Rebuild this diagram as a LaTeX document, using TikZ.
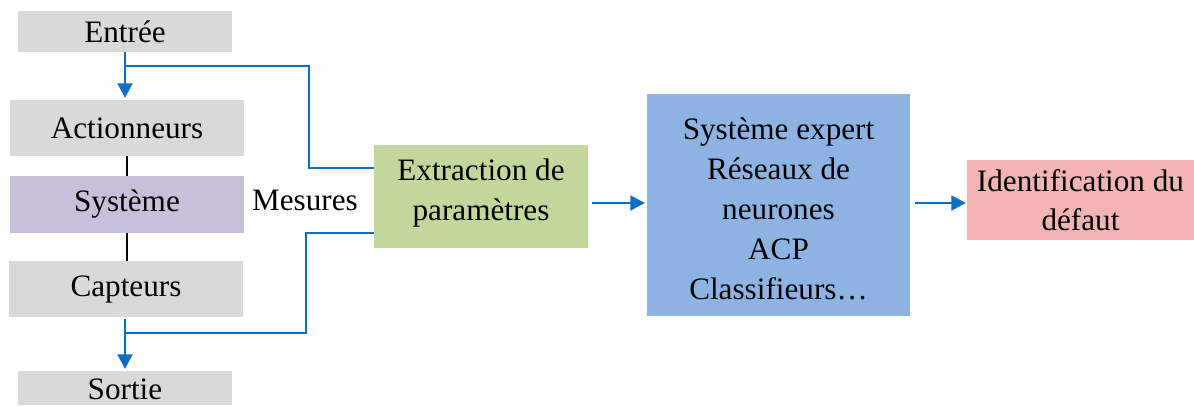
\documentclass[tikz,border=0pt]{standalone}
\usepackage{fontspec}
\setmainfont{Liberation Serif}
\usetikzlibrary{arrows.meta}
\definecolor{boxgray}{HTML}{D9D9D9}
\definecolor{boxpurple}{HTML}{C9BFDA}
\definecolor{boxgreen}{HTML}{C3D69B}
\definecolor{boxblue}{HTML}{8DB3E2}
\definecolor{boxpink}{HTML}{F4B4B4}
\definecolor{linkblue}{HTML}{0F6EC0}
\tikzset{
  px/.style={x=0.75pt,y=-0.75pt},
  blk/.style={inner sep=0pt,outer sep=0pt,align=center,font=\fontsize{23.4}{30}\selectfont},
  flow/.style={draw=linkblue,line width=2.2pt,-{Triangle[length=11pt,width=11pt]}},
  link/.style={draw=linkblue,line width=2.2pt},
  plain/.style={draw=black,line width=1.3pt}
}
\begin{document}
\begin{tikzpicture}[px]
\useasboundingbox (0,0) rectangle (1194,405);
% boxes
\fill[boxgray] (18,11) rectangle (232,52);
\node[blk] (ent) at (125,31.5) {Entrée};
\fill[boxgray] (10,100) rectangle (244,156);
\node[blk] (act) at (127,128) {Actionneurs};
\fill[boxpurple] (10,176) rectangle (244,233);
\node[blk] (sys) at (127,204.5) {Système};
\fill[boxgray] (9,261) rectangle (243,317);
\node[blk] (cap) at (126,289) {Capteurs};
\fill[boxgray] (18,371) rectangle (232,405);
\node[blk] (sor) at (125,389) {Sortie};
\fill[boxgreen] (374,145) rectangle (588,248);
\node[blk] (ext) at (481,193) {Extraction de\\paramètres};
\fill[boxblue] (647,94) rectangle (910,316);
\node[blk] (exp) at (778.5,209) {Système expert\\Réseaux de\\neurones\\ACP\\Classifieurs\dots};
\fill[boxpink] (967,160) rectangle (1194,240);
\node[blk,font=\fontsize{23.4}{29}\selectfont] (idf) at (1080.5,200) {Identification du\\défaut};
\node[blk] (mes) at (305,200) {Mesures};
% coordinates
\coordinate (e0) at (125,52);
\coordinate (e1) at (125,66);
\coordinate (e2) at (125,98);
\coordinate (c0) at (125,319);
\coordinate (c1) at (125,333);
\coordinate (c2) at (125,369);
\coordinate (g1) at (374,168);
\coordinate (g2) at (374,233);
% connectors
\draw[link] (e0) -- (e1);
\draw[flow] (e1) -- (e2);
\draw[link] (e1) -| (309,168) -- (g1);
\draw[link] (c0) -- (c1);
\draw[flow] (c1) -- (c2);
\draw[link] (c1) -| (306,233) -- (g2);
\draw[plain] (127,156) -- (127,176);
\draw[plain] (127,233) -- (127,261);
\draw[flow] (592,203) -- (645,203);
\draw[flow] (915,203) -- (966,203);
\end{tikzpicture}
\end{document}
